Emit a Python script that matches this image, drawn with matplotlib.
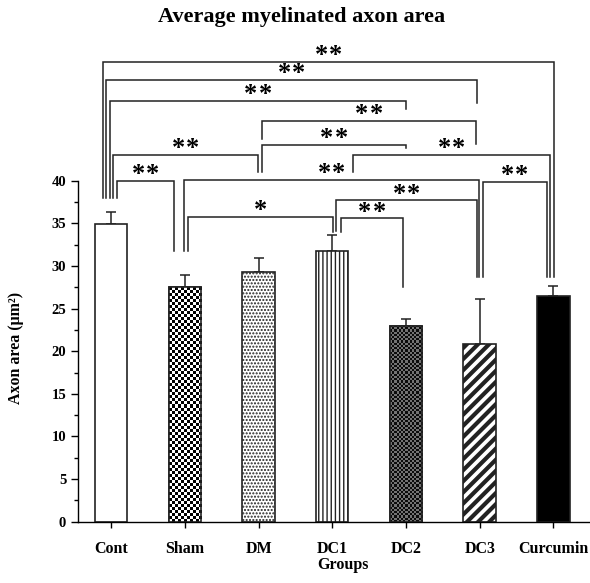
import numpy as np
import matplotlib.pyplot as plt
from matplotlib.ticker import FixedLocator

plt.rcParams['font.family'] = ['Liberation Serif', 'DejaVu Serif']
plt.rcParams['font.weight'] = 'bold'
plt.rcParams['hatch.linewidth'] = 1.0

groups = ["Cont", "Sham", "DM", "DC1", "DC2", "DC3", "Curcumin"]
means = [34.9, 27.5, 29.3, 31.8, 23.0, 20.85, 26.5]
sems = [1.4, 1.45, 1.6, 1.8, 0.8, 5.25, 1.1]

# significance: left group, right group, label
sig_pairs = [(0, 6, "**"), (0, 5, "**"), (0, 4, "**"), (2, 5, "**"), (2, 4, "**"),
             (0, 2, "**"), (3, 6, "**"), (0, 1, "**"), (1, 5, "**"), (5, 6, "**"),
             (3, 5, "**"), (1, 3, "*"), (3, 4, "**")]
# bracket drawing: height, left leg shift, left leg bottom, right leg shift, right leg bottom
bracket_geom = [(53.96, -0.113, 37.97, 0.004, 28.74),
                (51.82, -0.064, 37.97, -0.04, 49.08),
                (49.35, -0.018, 37.97, 0.003, 48.41),
                (47.04, 0.045, 44.86, -0.05, 44.30),
                (44.19, 0.045, 41.06, 0.0, 43.83),
                (43.02, 0.027, 37.97, -0.01, 41.06),
                (43.02, 0.28, 41.06, -0.05, 28.74),
                (40.00, 0.075, 37.97, -0.145, 31.75),
                (40.14, -0.005, 31.75, -0.007, 28.74),
                (39.90, 0.04, 28.74, -0.09, 28.74),
                (37.68, 0.046, 34.13, -0.038, 28.74),
                (35.78, 0.049, 31.75, 0.008, 34.02),
                (35.59, 0.117, 34.02, -0.034, 27.57)]

fig = plt.figure(figsize=(5.9, 5.83), dpi=100)
ax = fig.add_axes([78 / 590, 61.3 / 583, 512 / 590, 485.9 / 583])

x = np.arange(len(groups))
width = 0.44
bars = ax.bar(x, means, width, color='white', edgecolor='#222222', linewidth=1.2, zorder=2)

# patterns
bars[2].set_hatch('.....')
bars[3].set_hatch('||||')
bars[5].set_hatch('///')
if hasattr(bars[5], 'set_hatch_linewidth'):
    bars[5].set_hatch_linewidth(3.0)
bars[6].set_facecolor('black')


def checker(bar, cell_px, dark, light):
    x0, y0 = bar.get_x(), bar.get_y()
    w, h = bar.get_width(), bar.get_height()
    nx = max(1, int(round(w * 73.7 / cell_px)))
    ny = max(1, int(round(h * 8.525 / cell_px)))
    yy, xx = np.indices((ny, nx))
    img = np.where((xx + yy) % 2 == 0, dark, light)
    im = ax.imshow(img, extent=(x0, x0 + w, y0, y0 + h), cmap='gray', vmin=0, vmax=1,
                   interpolation='nearest', aspect='auto', zorder=2.5)
    im.set_clip_path(bar)
    ax.add_patch(plt.Rectangle((x0, y0), w, h, fill=False, edgecolor='#222222',
                               linewidth=1.2, zorder=3))


checker(bars[1], 3.0, 0.0, 1.0)
checker(bars[4], 2.2, 0.05, 0.45)

ax.errorbar(x, means, yerr=[np.zeros(len(sems)), sems], fmt='none', ecolor='#222222',
            elinewidth=1.1, capsize=3.3, capthick=1.1, zorder=1)

star_gap = 14.3 / 73.7
for (i, j, lab), (h, dl, bl, dr, br) in zip(sig_pairs, bracket_geom):
    xl, xr = i + dl, j + dr
    ax.plot([xl, xl, xr, xr], [bl, h, h, br], color='#222222', lw=1.1, zorder=4,
            solid_joinstyle='miter')
    xc = (xl + xr) / 2
    n = len(lab)
    for k in range(n):
        ax.text(xc + (k - (n - 1) / 2) * star_gap, h - 0.05, "*", ha='center',
                va='baseline', fontsize=19, fontweight='bold')

ax.set_xlim(-0.45, -0.45 + 512 / 73.7)
ax.set_ylim(0, 57)
ax.spines['top'].set_visible(False)
ax.spines['right'].set_visible(False)
ax.spines['left'].set_bounds(0, 40)
ax.spines['left'].set_linewidth(1.0)
ax.spines['bottom'].set_linewidth(1.0)
ax.set_yticks(np.arange(0, 41, 5))
ax.yaxis.set_minor_locator(FixedLocator(np.arange(2.5, 40, 5)))
ax.tick_params(axis='y', which='major', length=5, width=1.0, labelsize=10.5)
ax.tick_params(axis='y', which='minor', length=3, width=1.0)
ax.set_xticks(x)
ax.set_xticklabels(groups, fontsize=11.5, fontweight='bold')
ax.tick_params(axis='x', length=4, width=1.0, pad=10)
for t in ax.get_yticklabels():
    t.set_fontweight('bold')

ax.set_xlabel("Groups", fontsize=11.5, fontweight='bold')
ax.xaxis.set_label_coords((343 - 78) / 512, -0.072)
ax.set_ylabel("Axon area (\u03bcm\u00b2)", fontsize=11.5, fontweight='bold')
ax.yaxis.set_label_coords(-0.105, (521.7 - 348) / 485.9)

fig.text(302 / 590, 1 - 17 / 583, "Average myelinated axon area", ha='center', va='center',
         fontsize=16, fontweight='bold')

fig.savefig("out.png", dpi=100)
